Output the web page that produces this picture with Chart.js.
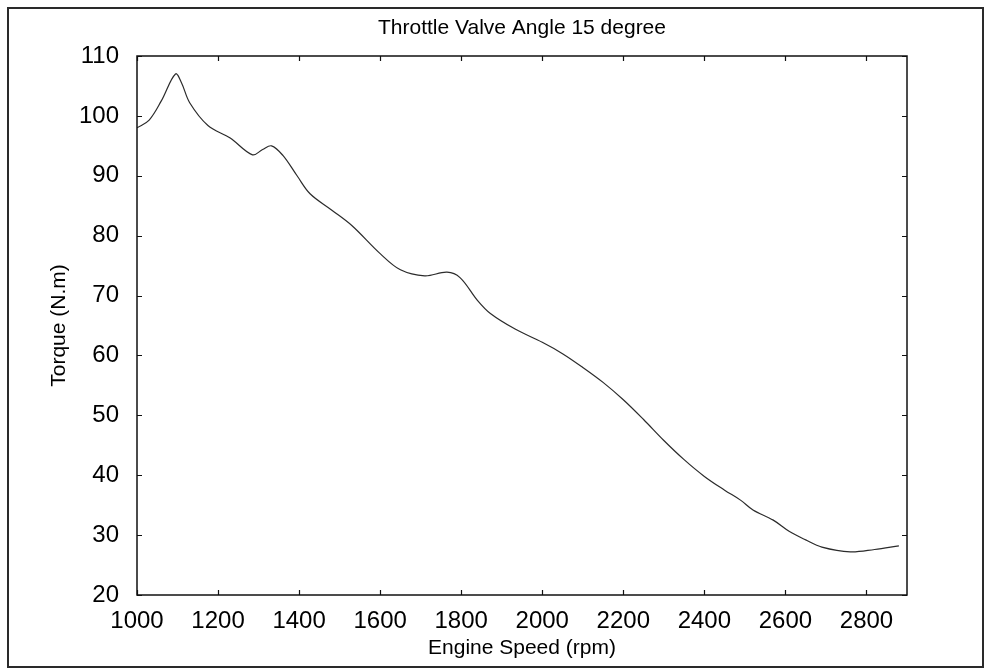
<!DOCTYPE html>
<html>
<head>
<meta charset="utf-8">
<title>Throttle Valve Angle 15 degree</title>
<script src="https://cdn.jsdelivr.net/npm/chart.js@4.4.1/dist/chart.umd.min.js"></script>
<style>
  html, body { margin: 0; padding: 0; background: #fff; }
  #wrap { position: relative; width: 993px; height: 670px; }
  #frame {
    position: absolute; left: 7px; top: 7px; width: 977px; height: 661px;
    border: 2px solid #2a2a2a; box-sizing: border-box; pointer-events: none;
  }
  canvas { position: absolute; left: 0; top: 0; }
</style>
</head>
<body>
<div id="wrap">
  <canvas id="chart" width="993" height="670"></canvas>
  <div id="frame"></div>
</div>
<script>
'use strict';

// ── Data ─────────────────────────────────────────────────────────────────
const engineSpeed = [
  1000, 1030, 1060, 1095, 1110, 1130, 1175, 1230, 1285, 1310, 1332, 1360,
  1395, 1427, 1480, 1530, 1600, 1650, 1710, 1765, 1797, 1840, 1872, 1933,
  2000, 2050, 2100, 2150, 2200, 2250, 2300, 2350, 2400, 2450, 2490, 2520,
  2570, 2610, 2650, 2690, 2760, 2820, 2880
];
const torque = [
  98.0, 99.3, 102.5, 107.0, 105.5, 102.2, 98.4, 96.3, 93.5, 94.4, 95.0, 93.4,
  90.0, 87.0, 84.3, 81.7, 77.0, 74.3, 73.3, 73.9, 73.0, 69.2, 67.0, 64.4,
  62.2, 60.3, 58.0, 55.5, 52.6, 49.3, 45.8, 42.6, 39.8, 37.5, 35.8, 34.2,
  32.5, 30.6, 29.2, 28.0, 27.2, 27.6, 28.2
];
const xTicks = [1000, 1200, 1400, 1600, 1800, 2000, 2200, 2400, 2600, 2800];
const yTicks = [20, 30, 40, 50, 60, 70, 80, 90, 100, 110];

const FONT = 'Liberation Sans, Arial, Helvetica, sans-serif';

// MATLAB-style box with inward ticks on all four sides
const boxTicks = {
  id: 'boxTicks',
  afterDatasetsDraw(chart) {
    const { ctx, chartArea: a, scales: { x, y } } = chart;
    const len = 5;
    ctx.save();
    ctx.strokeStyle = '#111';
    ctx.lineWidth = 1.2;
    ctx.beginPath();
    xTicks.forEach(function (v) {
      const px = Math.round(x.getPixelForValue(v)) + 0.5;
      ctx.moveTo(px, a.bottom); ctx.lineTo(px, a.bottom - len);
      ctx.moveTo(px, a.top);    ctx.lineTo(px, a.top + len);
    });
    yTicks.forEach(function (v) {
      const py = Math.round(y.getPixelForValue(v)) + 0.5;
      ctx.moveTo(a.left, py);  ctx.lineTo(a.left + len, py);
      ctx.moveTo(a.right, py); ctx.lineTo(a.right - len, py);
    });
    ctx.stroke();
    ctx.lineWidth = 1.5;
    ctx.strokeRect(a.left, a.top, a.right - a.left, a.bottom - a.top);
    ctx.restore();
  }
};

function plain(v) { return String(v); }

new Chart(document.getElementById('chart'), {
  type: 'line',
  data: {
    datasets: [{
      data: engineSpeed.map(function (s, i) { return { x: s, y: torque[i] }; }),
      borderColor: '#2b2b2b',
      borderWidth: 1.2,
      pointRadius: 0,
      tension: 0.35,
      fill: false
    }]
  },
  options: {
    responsive: false,
    animation: false,
    layout: { padding: { left: 0, right: 86, top: 0, bottom: 0 } },
    plugins: {
      legend: { display: false },
      tooltip: { enabled: false },
      title: {
        display: true,
        fullSize: false,
        text: 'Throttle Valve Angle 15 degree',
        color: '#000',
        font: { family: FONT, size: 21, weight: 'normal', lineHeight: 1.2 },
        padding: { top: 15.4, bottom: 15.4 }
      }
    },
    scales: {
      x: {
        type: 'linear',
        min: 1000,
        max: 2900,
        grid: { display: false },
        border: { display: false },
        afterBuildTicks: function (s) { s.ticks = xTicks.map(function (v) { return { value: v }; }); },
        afterFit: function (s) { s.height = 75; s.paddingLeft = 0; s.paddingRight = 0; },
        ticks: {
          color: '#000', padding: 4, maxRotation: 0, autoSkip: false,
          font: { family: FONT, size: 24 },
          callback: plain
        },
        title: {
          display: true, text: 'Engine Speed (rpm)', color: '#000',
          font: { family: FONT, size: 21, lineHeight: 1.2 },
          padding: { top: 0, bottom: 9.4 }
        }
      },
      y: {
        min: 20,
        max: 110,
        grid: { display: false },
        border: { display: false },
        afterBuildTicks: function (s) { s.ticks = yTicks.map(function (v) { return { value: v }; }); },
        afterFit: function (s) { s.width = 137; s.paddingTop = 0; s.paddingBottom = 0; },
        ticks: {
          color: '#000', padding: 10, autoSkip: false,
          font: { family: FONT, size: 24 },
          callback: plain
        },
        title: {
          display: true, text: 'Torque (N.m)', color: '#000',
          font: { family: FONT, size: 21, lineHeight: 1.2 },
          padding: { top: 47, bottom: 0 }
        }
      }
    }
  },
  plugins: [boxTicks]
});
</script>
</body>
</html>
